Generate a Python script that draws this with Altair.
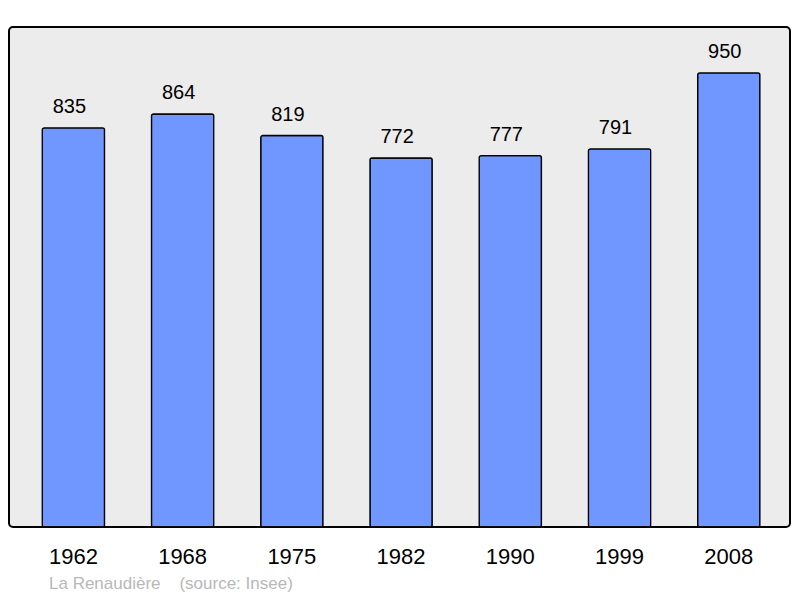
import altair as alt
import pandas as pd

years = ["1962", "1968", "1975", "1982", "1990", "1999", "2008"]
population = [835, 864, 819, 772, 777, 791, 950]
source_text = ["La Renaudière\u00a0\u00a0\u00a0\u00a0(source: Insee)"]

df = pd.DataFrame({"year": years, "pop": population})

x = alt.X("year:N", sort=years,
          scale=alt.Scale(paddingInner=0.43, paddingOuter=0.29, align=0.525),
          axis=alt.Axis(title=None, labelAngle=0, domain=False, ticks=False,
                        labelFontSize=22, labelFont="Liberation Sans",
                        labelColor="#000000", labelPadding=19))
y = alt.Y("pop:Q", scale=alt.Scale(domain=[0, 1046], nice=False, zero=True),
          axis=None)

bars = alt.Chart(df).mark_bar(color="#7096ff", stroke="#000000",
                              strokeWidth=1.3, cornerRadius=2).encode(x=x, y=y)
labels = alt.Chart(df).mark_text(fontSize=20, font="Liberation Sans",
                                 color="#000000", baseline="alphabetic",
                                 dx=-4, dy=-15).encode(x=x, y=y, text="pop:Q")
src = alt.Chart(pd.DataFrame({"t": source_text})).mark_text(
    fontSize=17, font="Liberation Sans", color="#b8b8b8", align="left",
    baseline="middle").encode(x=alt.value(40), y=alt.value(557), text="t:N")

chart = alt.layer(bars, labels, src).properties(
    width=781, height=500,
    autosize=alt.AutoSizeParams(type="none"),
    padding={"left": 1, "top": 19, "right": 2, "bottom": 70},
).configure(background="#ffffff").configure_view(
    fill="#ececec", stroke="#000000", strokeWidth=2, cornerRadius=4)

chart.save("out.html", embed_options={"renderer": "svg", "actions": False})
